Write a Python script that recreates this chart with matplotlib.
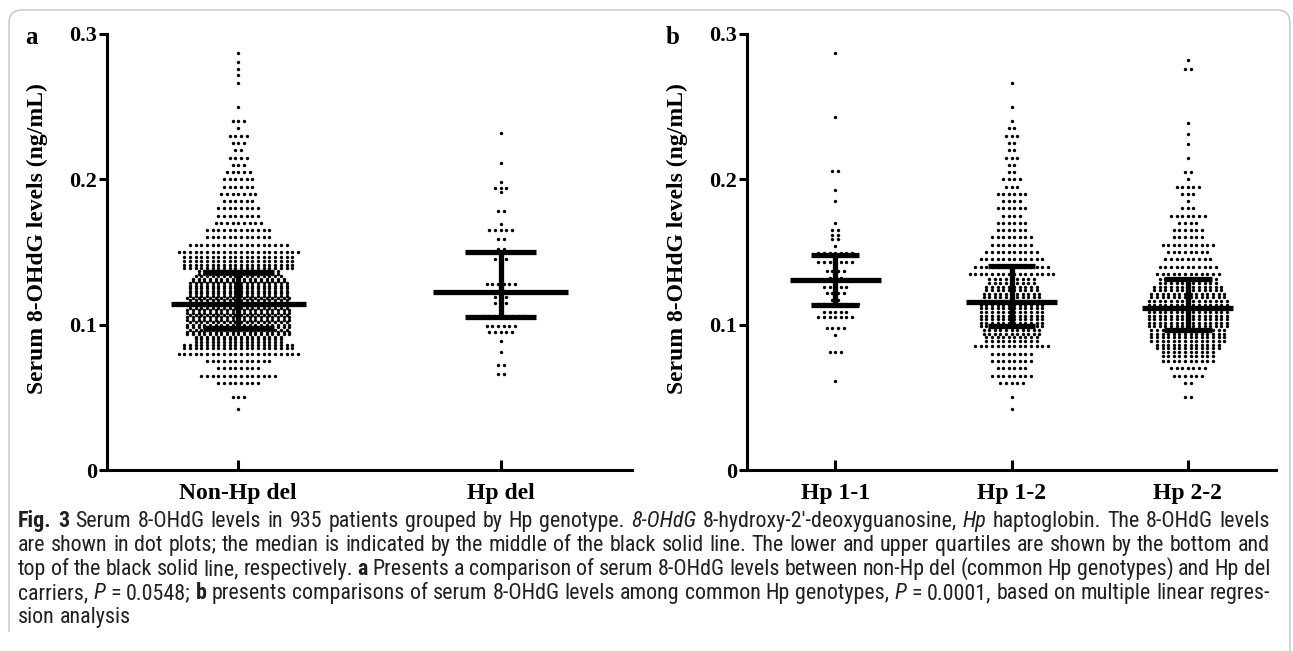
import matplotlib
matplotlib.use("Agg")
import matplotlib.pyplot as plt
import numpy as np
from matplotlib import font_manager
from matplotlib.path import Path
from matplotlib.patches import PathPatch

W, H = 1293, 651

# ---- panel a: Non-Hp del vs Hp del ----
GROUPS_A = ["Non-Hp del", "Hp del"]
MEDIAN_A = [0.1143, 0.1223]
Q1_A = [0.0980, 0.1052]
Q3_A = [0.1363, 0.1497]

NONHP_LEVELS = [0.042, 0.050, 0.060, 0.065, 0.070, 0.075, 0.080, 0.085, 0.090, 0.095,
                0.100, 0.105, 0.110, 0.115, 0.120, 0.125, 0.130, 0.135, 0.140, 0.145,
                0.150, 0.155, 0.160, 0.165, 0.170, 0.175, 0.180, 0.185, 0.190, 0.195,
                0.200, 0.205, 0.210, 0.215, 0.220, 0.225, 0.230, 0.235, 0.240, 0.250,
                0.266, 0.272, 0.276, 0.281, 0.287]
NONHP_COUNTS = [1, 3, 8, 14, 8, 12, 22, 40, 48, 56,
                56, 56, 56, 55, 55, 54, 52, 46, 40, 40,
                22, 18, 12, 12, 9, 8, 8, 6, 7, 6,
                6, 5, 3, 4, 2, 3, 4, 1, 3, 1,
                1, 1, 1, 1, 1]

HPDEL_LEVELS = [0.066, 0.072, 0.081, 0.089, 0.095, 0.099, 0.106, 0.115, 0.119, 0.123,
                0.128, 0.136, 0.140, 0.145, 0.152, 0.159, 0.165, 0.169, 0.178, 0.191,
                0.194, 0.198, 0.211, 0.232]
HPDEL_COUNTS = [2, 2, 1, 1, 5, 6, 9, 3, 3, 2,
                6, 1, 1, 3, 2, 2, 5, 1, 2, 1,
                3, 1, 1, 1]

# ---- panel b: common Hp genotypes ----
GROUPS_B = ["Hp 1-1", "Hp 1-2", "Hp 2-2"]
MEDIAN_B = [0.1310, 0.1157, 0.1116]
Q1_B = [0.1134, 0.0992, 0.0960]
Q3_B = [0.1480, 0.1407, 0.1315]

HP11_LEVELS = [0.061, 0.081, 0.093, 0.098, 0.105, 0.109, 0.114, 0.117, 0.122, 0.126,
               0.132, 0.137, 0.143, 0.149, 0.154, 0.159, 0.162, 0.165, 0.170, 0.185,
               0.193, 0.206, 0.243, 0.287]
HP11_COUNTS = [1, 3, 1, 4, 7, 5, 9, 2, 4, 5,
               3, 4, 7, 7, 1, 2, 2, 2, 1, 1,
               1, 2, 1, 1]

HP12_LEVELS = [0.042, 0.050, 0.060, 0.065, 0.070, 0.075, 0.080, 0.085, 0.090, 0.095,
               0.100, 0.105, 0.110, 0.115, 0.120, 0.125, 0.130, 0.135, 0.140, 0.145,
               0.150, 0.155, 0.160, 0.165, 0.170, 0.175, 0.180, 0.185, 0.190, 0.195,
               0.200, 0.205, 0.210, 0.215, 0.220, 0.225, 0.230, 0.235, 0.240, 0.250,
               0.266]
HP12_COUNTS = [1, 1, 5, 8, 6, 8, 8, 14, 20, 22,
               24, 24, 24, 24, 22, 20, 18, 16, 14, 12,
               10, 8, 8, 6, 6, 4, 6, 4, 6, 3,
               4, 2, 2, 3, 2, 2, 3, 2, 1, 1,
               1]

HP22_LEVELS = [0.050, 0.060, 0.065, 0.070, 0.075, 0.080, 0.085, 0.090, 0.095, 0.100,
               0.105, 0.110, 0.115, 0.120, 0.125, 0.130, 0.135, 0.140, 0.145, 0.150,
               0.155, 0.160, 0.165, 0.170, 0.175, 0.180, 0.185, 0.190, 0.195, 0.200,
               0.205, 0.215, 0.224, 0.231, 0.239, 0.276, 0.282]
HP22_COUNTS = [2, 2, 6, 7, 10, 20, 24, 28, 28, 30,
               30, 30, 30, 28, 26, 22, 12, 11, 9, 8,
               10, 6, 6, 4, 7, 3, 1, 3, 5, 1,
               2, 1, 1, 1, 1, 2, 1]

Y_TICKS = [0, 0.1, 0.2, 0.3]
Y_TICK_LABELS = ["0", "0.1", "0.2", "0.3"]
Y_LABEL = "Serum 8-OHdG levels (ng/mL)"

CAPTION = [
    [("bold", "Fig. 3"), ("normal", "Serum 8-OHdG levels in 935 patients grouped by Hp genotype."),
     ("italic", "8-OHdG"), ("normal", "8-hydroxy-2\u2032-deoxyguanosine,"), ("italic", "Hp"),
     ("normal", "haptoglobin. The 8-OHdG levels")],
    [("normal", "are shown in dot plots; the median is indicated by the middle of the black solid line. "
                "The lower and upper quartiles are shown by the bottom and")],
    [("normal", "top of the black solid line, respectively."), ("bold", "a"),
     ("normal", "Presents a comparison of serum 8-OHdG levels between non-Hp del (common Hp genotypes) and Hp del")],
    [("normal", "carriers,"), ("italic", "P"), ("normal", "= 0.0548;"), ("bold", "b"),
     ("normal", "presents comparisons of serum 8-OHdG levels among common Hp genotypes,"),
     ("italic", "P"), ("normal", "= 0.0001, based on multiple linear regres-")],
    [("normal", "sion analysis")],
]

SERIF = ["Liberation Serif", "DejaVu Serif"]
available = {f.name for f in font_manager.fontManager.ttflist}
narrow = next((f for f in ["Liberation Sans Narrow", "Roboto Condensed", "Open Sans Condensed"]
               if f in available), "Roboto")
CAPTION_FONT = [narrow, "DejaVu Sans"]

plt.rcParams["font.family"] = SERIF
plt.rcParams["font.weight"] = "bold"


def dot_rows(levels, counts, centre, step, max_row, bin_w=0.005):
    xs, ys = [], []
    for level, n in zip(levels, counts):
        rows = int(np.ceil(n / max_row))
        sizes = [n // rows + (1 if i < n % rows else 0) for i in range(rows)]
        for i, k in enumerate(sizes):
            y = level + (i - (rows - 1) / 2) * bin_w / rows
            offs = (np.arange(k) - (k - 1) / 2) * step
            xs.extend(centre + offs)
            ys.extend([y] * k)
    return np.array(xs), np.array(ys)


def stat_bars(ax, pos, med, q1, q3):
    kw = dict(color="black", lw=3.8, zorder=3, capstyle="butt")
    ax.hlines(med, pos - 0.2575, pos + 0.2575, **kw)
    ax.hlines([q1, q3], pos - 0.135, pos + 0.135, **kw)
    ax.vlines(pos, q1, q3, **kw)


def style_axes(ax, names):
    ax.spines[["top", "right"]].set_visible(False)
    for s in ("left", "bottom"):
        ax.spines[s].set_linewidth(2.2)
    ax.set_ylim(0, 0.3)
    ax.set_xlim(-0.5, len(names) - 0.5)
    ax.set_yticks(Y_TICKS, labels=Y_TICK_LABELS)
    ax.set_xticks(range(len(names)), labels=names)
    ax.tick_params(axis="y", direction="out", length=5.5, width=2.2, labelsize=16, pad=1.5)
    ax.tick_params(axis="x", direction="in", length=7, width=2.2, labelsize=17, pad=9)
    ax.set_ylabel(Y_LABEL, fontsize=17, fontweight="bold")
    ax.yaxis.set_label_coords(-0.112, 0.53)


fig = plt.figure(figsize=(W / 100, H / 100), dpi=100)
ax_a = fig.add_axes([107 / W, 1 - 470 / H, 525 / W, 436 / H])
ax_b = fig.add_axes([747 / W, 1 - 470 / H, 529 / W, 436 / H])

step_a = 5.7 / 263.5
step_b = 5.6 / 176.5
for i, (lv, ct) in enumerate([(NONHP_LEVELS, NONHP_COUNTS), (HPDEL_LEVELS, HPDEL_COUNTS)]):
    x, y = dot_rows(lv, ct, i, step_a, 22)
    ax_a.scatter(x, y, s=6, color="black", linewidths=0, zorder=2, clip_on=False)
    stat_bars(ax_a, i, MEDIAN_A[i], Q1_A[i], Q3_A[i])

for i, (lv, ct) in enumerate([(HP11_LEVELS, HP11_COUNTS), (HP12_LEVELS, HP12_COUNTS),
                              (HP22_LEVELS, HP22_COUNTS)]):
    x, y = dot_rows(lv, ct, i, step_b, 16)
    ax_b.scatter(x, y, s=6, color="black", linewidths=0, zorder=2, clip_on=False)
    stat_bars(ax_b, i, MEDIAN_B[i], Q1_B[i], Q3_B[i])

style_axes(ax_a, GROUPS_A)
style_axes(ax_b, GROUPS_B)

fig.text(31 / W, 1 - 38 / H, "a", fontsize=18, fontweight="bold", ha="center", va="center")
fig.text(673 / W, 1 - 38 / H, "b", fontsize=18, fontweight="bold", ha="center", va="center")

# rounded frame around the figure (open at the bottom)
r = 13
x0, x1, top, bottom = 9, 1290, 10, 632
verts = [(x0, bottom), (x0, top + r), (x0, top), (x0 + r, top), (x1 - r, top),
         (x1, top), (x1, top + r), (x1, H)]
codes = [Path.MOVETO, Path.LINETO, Path.CURVE3, Path.CURVE3, Path.LINETO,
         Path.CURVE3, Path.CURVE3, Path.LINETO]
frame = Path([(vx / W, 1 - vy / H) for vx, vy in verts], codes)
fig.add_artist(PathPatch(frame, transform=fig.transFigure, fill=False,
                         edgecolor="#bcbcbc", lw=0.9))

# caption, laid out word by word and justified
renderer = fig.canvas.get_renderer()
cap_x0, cap_x1 = 18, 1270
style_kw = {"normal": dict(fontweight="normal", fontstyle="normal"),
            "bold": dict(fontweight="bold", fontstyle="normal"),
            "italic": dict(fontweight="normal", fontstyle="italic")}


def text_width(s, size, st="normal"):
    t = fig.text(0, 0, s, family=CAPTION_FONT, fontsize=size, **style_kw[st])
    w = t.get_window_extent(renderer).width
    t.remove()
    return w


# size the caption so the longest plain line fills the measure with normal spacing
ref_line = CAPTION[1][0][1]
cap_size = 10 * (cap_x1 - cap_x0) * 0.985 / text_width(ref_line, 10)
space_w = text_width("x x", cap_size) - text_width("xx", cap_size)

for k, line in enumerate(CAPTION):
    baseline = 527 + 24 * k
    words = [(st, w) for st, seg in line for w in seg.split(" ")]
    arts = []
    for st, w in words:
        t = fig.text(0, 1 - baseline / H, w, family=CAPTION_FONT, fontsize=cap_size,
                     va="baseline", ha="left", color="#231f20", **style_kw[st])
        arts.append((t, t.get_window_extent(renderer).width))
    total = sum(wd for _, wd in arts)
    if k < len(CAPTION) - 1 and len(arts) > 1:
        gap = (cap_x1 - cap_x0 - total) / (len(arts) - 1)
    else:
        gap = space_w
    x = cap_x0
    for t, wd in arts:
        t.set_x(x / W)
        x += wd + gap

fig.savefig("out.png", dpi=100)
